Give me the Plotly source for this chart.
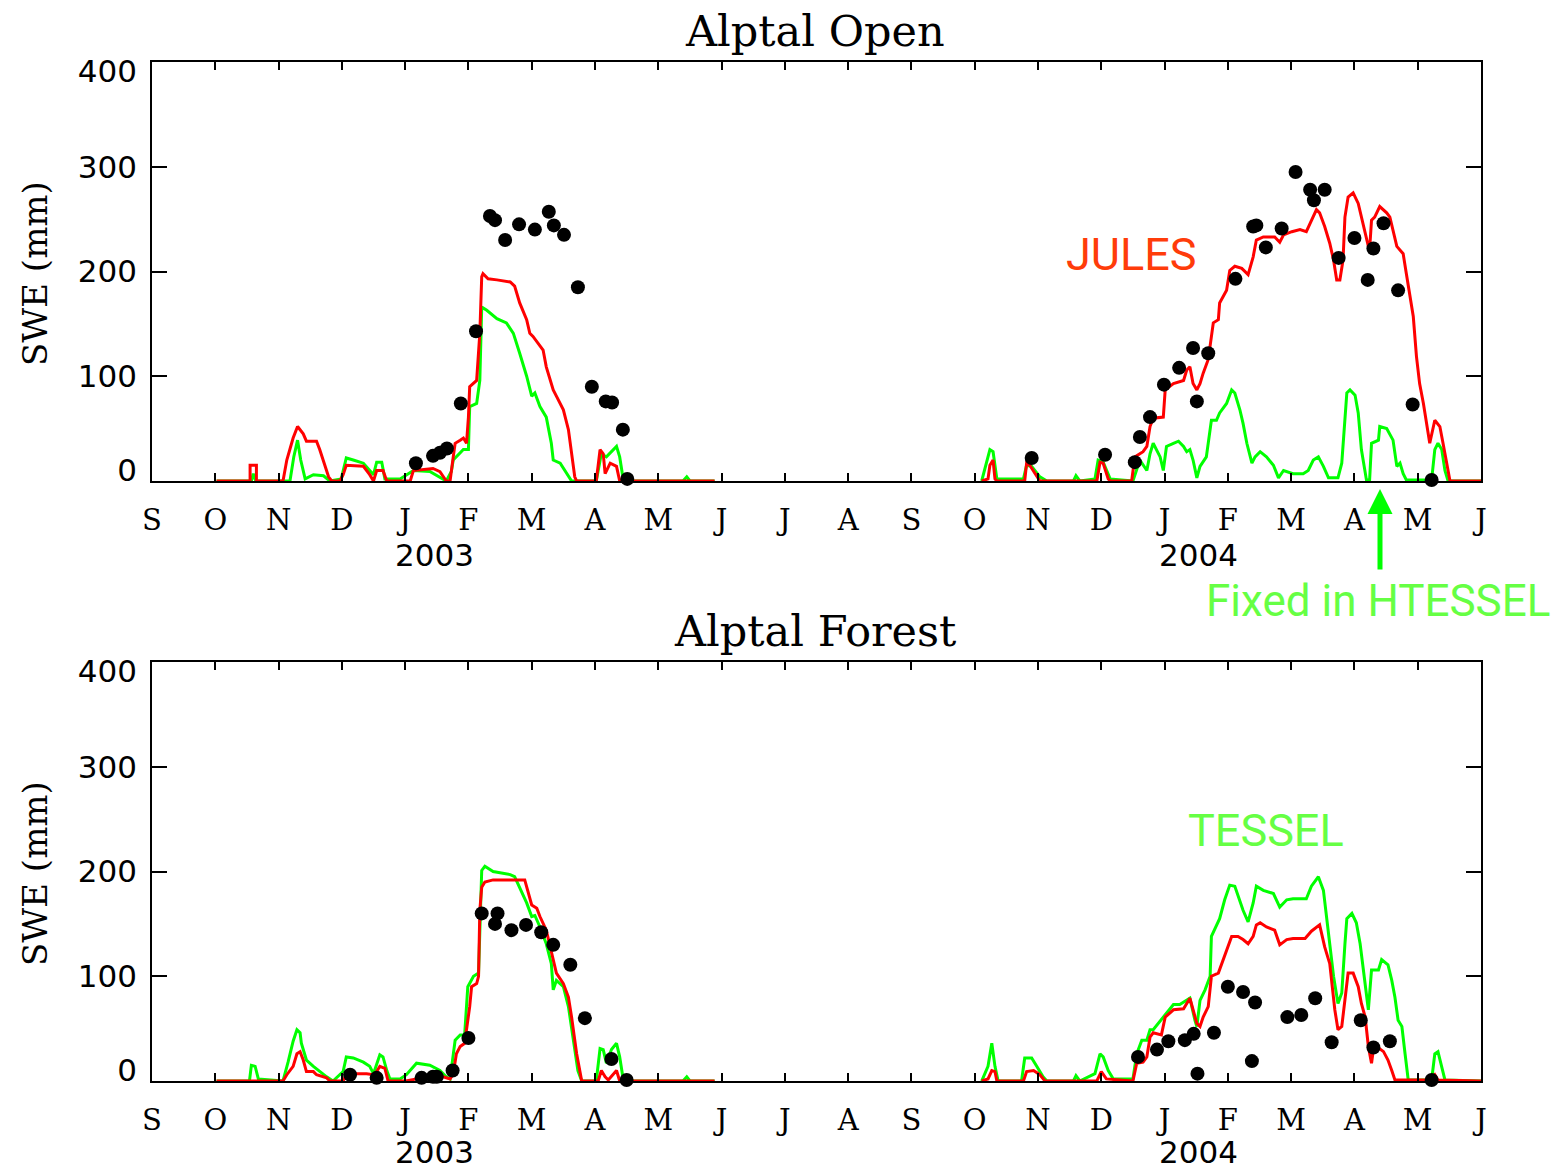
import plotly.graph_objects as go

# ---------------- data (x = months since 1 Sep 2002, y = SWE in mm) ----------------
MONTH_LABELS = ["S", "O", "N", "D", "J", "F", "M", "A", "M", "J", "J",
                "A", "S", "O", "N", "D", "J", "F", "M", "A", "M", "J"]
YEAR_LABELS = ["2003", "2004"]
YEAR_POS = [4.47, 16.54]

OPEN_JULES_2003 = [(1.02,0),(1.55,0),(1.55,15),(1.65,15),(1.65,0),(2.07,0),(2.13,20),(2.23,41),(2.30,52),(2.39,45),
    (2.44,38),(2.60,38),(2.65,30),(2.73,14),(2.79,4),(2.84,0),(2.97,0),(3.02,6),(3.07,15),(3.34,14),(3.44,6),(3.50,0),
    (3.55,10),(3.65,10),(3.71,0),(4.08,0),(4.13,10),(4.44,12),(4.55,9),(4.65,0),(4.71,0),(4.76,23),(4.79,36),(4.87,39),
    (4.92,41),(4.97,36),(5.00,61),(5.02,90),(5.13,96),(5.18,141),(5.21,195),(5.23,198),(5.31,193),(5.45,192),(5.66,190),
    (5.73,186),(5.81,170),(5.92,154),(5.97,141),(6.02,138),(6.10,131),(6.18,125),(6.23,109),(6.34,87),(6.39,81),(6.50,68),
    (6.58,49),(6.63,26),(6.68,4),(6.71,0),(7.02,0),(7.08,30),(7.13,26),(7.16,7),(7.24,17),(7.34,14),(7.39,0),(8.89,0)]
OPEN_TESSEL_2003 = [(1.02,0),(1.57,0),(1.60,7),(1.64,0),(2.18,0),(2.24,23),(2.30,39),(2.35,20),(2.42,2),(2.55,6),(2.71,5),
    (2.81,0),(2.99,2),(3.07,22),(3.18,20),(3.34,17),(3.50,6),(3.55,18),(3.63,18),(3.68,2),(3.92,2),(4.13,10),(4.39,9),
    (4.65,0),(4.73,9),(4.76,20),(4.92,30),(5.00,30),(5.02,71),(5.13,74),(5.18,96),(5.21,166),(5.29,163),(5.45,155),
    (5.60,151),(5.71,141),(5.81,122),(5.92,100),(6.00,81),(6.05,84),(6.13,71),(6.23,61),(6.31,36),(6.34,20),(6.45,17),
    (6.55,7),(6.63,0),(7.02,0),(7.10,26),(7.18,23),(7.34,33),(7.39,23),(7.45,0),(8.39,0),(8.45,4),(8.50,0),(8.89,0)]
OPEN_JULES_2004 = [(13.11,0),(13.21,2),(13.24,15),(13.29,20),(13.32,2),(13.35,0),(13.79,0),(13.82,17),(13.87,15),(13.98,4),
    (14.03,0),(14.93,0),(14.98,18),(15.03,17),(15.11,2),(15.14,0),(15.48,0),(15.53,23),(15.66,28),(15.72,33),(15.77,52),
    (15.82,60),(15.98,61),(16.01,87),(16.14,93),(16.30,96),(16.35,106),(16.40,109),(16.45,93),(16.51,87),(16.56,93),
    (16.61,103),(16.69,116),(16.77,151),(16.85,154),(16.87,170),(16.98,182),(17.03,201),(17.11,205),(17.22,203),
    (17.32,197),(17.40,214),(17.45,230),(17.56,233),(17.74,233),(17.82,228),(17.88,235),(18.01,238),(18.14,240),
    (18.24,238),(18.32,249),(18.40,259),(18.45,256),(18.53,243),(18.61,227),(18.67,211),(18.72,192),(18.77,192),
    (18.82,211),(18.85,252),(18.90,271),(18.98,275),(19.06,265),(19.14,243),(19.22,224),(19.24,221),(19.27,249),
    (19.32,252),(19.40,262),(19.51,256),(19.56,252),(19.67,224),(19.77,217),(19.82,198),(19.88,173),(19.93,157),
    (19.98,119),(20.03,93),(20.09,74),(20.14,55),(20.19,36),(20.27,58),(20.35,52),(20.40,36),(20.46,17),(20.51,0),(21.0,0)]
OPEN_TESSEL_2004 = [(13.11,0),(13.19,17),(13.24,30),(13.29,28),(13.32,14),(13.35,2),(13.77,2),(13.82,15),(13.90,14),
    (14.03,4),(14.14,0),(14.56,0),(14.60,5),(14.66,0),(14.90,2),(14.95,20),(15.03,18),(15.14,2),(15.50,0),(15.61,20),
    (15.72,10),(15.77,26),(15.82,36),(15.87,30),(15.93,23),(15.98,10),(16.03,33),(16.14,36),(16.22,38),(16.30,33),
    (16.35,28),(16.40,30),(16.45,20),(16.51,3),(16.56,14),(16.66,23),(16.74,58),(16.82,58),(16.87,65),(16.98,74),
    (17.06,87),(17.11,84),(17.19,68),(17.24,55),(17.30,36),(17.38,17),(17.43,23),(17.51,28),(17.61,23),(17.72,15),
    (17.80,3),(17.88,10),(18.03,7),(18.19,7),(18.27,10),(18.35,20),(18.43,23),(18.51,14),(18.59,3),(18.74,3),(18.80,17),
    (18.88,84),(18.93,87),(19.01,82),(19.06,65),(19.11,30),(19.19,1),(19.24,1),(19.27,36),(19.38,39),(19.40,52),
    (19.51,50),(19.61,39),(19.67,14),(19.72,17),(19.77,7),(19.82,1),(20.22,1),(20.27,30),(20.32,36),(20.38,30),
    (20.43,10),(20.48,0),(21.0,0)]
OPEN_OBS_X = [4.17,4.44,4.55,4.66,4.88,5.12,5.34,5.42,5.58,5.80,6.05,6.27,6.35,6.51,6.73,6.95,7.17,7.27,7.44,7.51,
    13.90,15.06,15.53,15.61,15.77,15.99,16.23,16.45,16.51,16.69,17.12,17.40,17.45,17.60,17.85,18.07,18.30,18.36,
    18.53,18.75,19.00,19.21,19.30,19.46,19.69,19.92,20.22]
OPEN_OBS_Y = [17,24,27,31,74,143,253,249,230,245,240,257,244,235,185,90,76,75,49,2,
    22,25,18,42,61,92,108,127,76,122,193,243,244,223,241,295,278,268,278,213,232,192,222,246,182,73,1]

FOREST_JULES_2003 = [(1.02,0),(2.07,0),(2.13,6),(2.23,14),(2.29,26),(2.34,28),(2.39,20),(2.44,9),(2.55,9),(2.60,6),
    (2.76,3),(2.81,0),(3.02,0),(3.07,6),(3.13,7),(3.39,7),(3.50,6),(3.55,9),(3.60,14),(3.68,12),(3.73,0),(4.01,0),
    (4.18,2),(4.39,6),(4.60,4),(4.71,2),(4.76,7),(4.81,26),(4.87,33),(4.94,36),(5.02,71),(5.05,90),(5.13,93),(5.16,100),
    (5.18,163),(5.21,185),(5.26,190),(5.39,192),(5.89,192),(5.95,179),(6.00,168),(6.08,165),(6.13,157),(6.23,144),
    (6.31,122),(6.39,103),(6.50,93),(6.58,80),(6.63,61),(6.71,26),(6.79,0),(7.05,0),(7.10,10),(7.16,4),(7.21,1),
    (7.29,7),(7.34,10),(7.39,0),(8.89,0)]
FOREST_TESSEL_2003 = [(1.02,0),(1.54,0),(1.57,15),(1.63,14),(1.68,2),(2.07,0),(2.15,18),(2.23,38),(2.29,49),(2.34,46),
    (2.36,36),(2.44,20),(2.55,14),(2.65,9),(2.76,4),(2.86,0),(3.02,9),(3.07,23),(3.18,22),(3.34,18),(3.44,14),(3.50,7),
    (3.60,25),(3.65,23),(3.71,10),(3.76,2),(3.92,2),(4.02,6),(4.18,17),(4.39,15),(4.55,10),(4.65,4),(4.71,2),(4.79,39),
    (4.87,44),(4.94,44),(4.99,90),(5.08,100),(5.16,103),(5.21,201),(5.26,205),(5.39,200),(5.66,197),(5.73,195),
    (5.81,185),(5.92,170),(6.00,157),(6.05,158),(6.13,147),(6.23,131),(6.31,112),(6.34,87),(6.39,96),(6.50,90),
    (6.58,71),(6.66,36),(6.73,10),(6.79,0),(7.02,0),(7.08,31),(7.13,30),(7.18,17),(7.26,30),(7.34,36),(7.39,23),
    (7.45,0),(8.39,0),(8.45,4),(8.50,0),(8.89,0)]
FOREST_JULES_2004 = [(13.11,0),(13.21,2),(13.27,10),(13.32,9),(13.35,0),(13.77,0),(13.82,9),(13.93,10),(14.03,6),
    (14.11,0),(14.93,0),(15.00,9),(15.08,2),(15.50,0),(15.56,17),(15.66,18),(15.72,23),(15.77,42),(15.82,46),(15.95,44),
    (16.01,61),(16.14,68),(16.30,69),(16.35,74),(16.40,79),(16.45,68),(16.51,55),(16.56,52),(16.61,61),(16.69,71),
    (16.74,100),(16.85,103),(16.93,116),(17.01,131),(17.06,138),(17.16,138),(17.24,135),(17.32,131),(17.40,138),
    (17.45,149),(17.51,151),(17.61,147),(17.74,144),(17.82,130),(17.93,135),(18.03,136),(18.22,136),(18.32,143),
    (18.40,147),(18.45,149),(18.53,128),(18.61,112),(18.69,68),(18.74,49),(18.80,52),(18.85,77),(18.90,103),
    (18.98,103),(19.06,90),(19.11,74),(19.17,61),(19.22,33),(19.27,17),(19.30,30),(19.35,33),(19.46,28),(19.53,20),
    (19.59,10),(19.64,1),(20.19,1),(20.27,6),(20.32,1),(21.0,0)]
FOREST_TESSEL_2004 = [(13.11,0),(13.21,14),(13.27,36),(13.32,14),(13.37,0),(13.74,0),(13.79,22),(13.90,22),(13.98,14),
    (14.08,4),(14.14,0),(14.56,0),(14.60,5),(14.66,0),(14.90,7),(14.98,26),(15.03,23),(15.11,10),(15.19,2),(15.50,2),
    (15.56,26),(15.64,39),(15.72,39),(15.77,49),(15.82,49),(15.98,61),(16.14,73),(16.24,73),(16.35,77),(16.40,79),
    (16.48,58),(16.51,52),(16.56,77),(16.64,87),(16.72,100),(16.74,138),(16.87,155),(16.95,173),(17.03,187),
    (17.11,186),(17.24,163),(17.32,152),(17.40,170),(17.45,186),(17.56,182),(17.72,179),(17.82,166),(17.93,173),
    (18.03,174),(18.24,174),(18.32,186),(18.43,195),(18.51,182),(18.59,141),(18.67,100),(18.74,74),(18.80,84),
    (18.85,131),(18.88,155),(18.96,160),(19.03,151),(19.09,131),(19.17,90),(19.22,68),(19.27,106),(19.38,106),
    (19.43,116),(19.53,111),(19.59,96),(19.64,80),(19.69,58),(19.75,52),(19.80,26),(19.85,1),(20.22,1),(20.27,26),
    (20.32,28),(20.38,14),(20.43,1),(21.0,0)]
FOREST_OBS_X = [3.13,3.55,4.26,4.44,4.50,4.75,5.00,5.21,5.46,5.42,5.68,5.91,6.15,6.34,6.61,6.84,7.26,7.50,
    15.58,15.88,16.06,16.32,16.46,16.52,16.78,17.00,17.24,17.43,17.38,17.94,18.16,18.38,18.64,19.10,19.30,19.56,20.22]
FOREST_OBS_Y = [6,3,3,4,4,10,41,160,160,150,144,149,142,130,111,60,21,1,
    23,30,38,39,45,7,46,90,85,75,19,61,63,79,37,58,32,38,1]

Y_TICKS = [0, 100, 200, 300, 400]
Y_TICK_LABEL_POS = [10.5, 100, 200, 300, 391]

# ---------------- figure ----------------
W, H = 1561, 1172
RED, GREEN = "#ff0000", "#00ff00"
SERIF = "DejaVu Serif"
DIGITS = "DejaVu Sans"
SANS = "Roboto, Liberation Sans, Arial, sans-serif"


def seasons(a, b):
    xs = [p[0] for p in a] + [None] + [p[0] for p in b]
    ys = [p[1] for p in a] + [None] + [p[1] for p in b]
    return xs, ys


fig = go.Figure()
panels = [
    ("x", "y", "y3", OPEN_TESSEL_2003, OPEN_TESSEL_2004, OPEN_JULES_2003, OPEN_JULES_2004, OPEN_OBS_X, OPEN_OBS_Y),
    ("x2", "y2", "y4", FOREST_TESSEL_2003, FOREST_TESSEL_2004, FOREST_JULES_2003, FOREST_JULES_2004, FOREST_OBS_X, FOREST_OBS_Y),
]
for xa, ya, ylab, t03, t04, j03, j04, ox, oy in panels:
    # empty helper trace so the label-only overlay axis is drawn
    fig.add_trace(go.Scatter(x=[None], y=[None], mode="lines", xaxis=xa, yaxis=ylab,
                             showlegend=False, hoverinfo="skip"))
    x, y = seasons(t03, t04)
    fig.add_trace(go.Scatter(x=x, y=y, mode="lines", line=dict(color=GREEN, width=3),
                             xaxis=xa, yaxis=ya, showlegend=False, connectgaps=False))
    x, y = seasons(j03, j04)
    fig.add_trace(go.Scatter(x=x, y=y, mode="lines", line=dict(color=RED, width=3),
                             xaxis=xa, yaxis=ya, showlegend=False, connectgaps=False))
    fig.add_trace(go.Scatter(x=ox, y=oy, mode="markers", marker=dict(color="black", size=14),
                             xaxis=xa, yaxis=ya, showlegend=False, cliponaxis=False))

xdom = [152 / W, 1481 / W]
top_dom = [1 - 481 / H, 1 - 62 / H]
bot_dom = [1 - 1081 / H, 1 - 662 / H]

xcommon = dict(range=[0, 21], tickvals=list(range(len(MONTH_LABELS))), ticktext=MONTH_LABELS,
               ticks="inside", ticklen=8, tickwidth=2, tickcolor="black", mirror="ticks",
               showline=True, linewidth=2, linecolor="black", showgrid=False, zeroline=False,
               tickfont=dict(family=SERIF, size=29, color="black"), ticklabelstandoff=12,
               domain=xdom, automargin=False)
ycommon = dict(range=[0, 400], tickvals=Y_TICKS, ticks="inside", ticklen=15, tickwidth=2,
               tickcolor="black", mirror="ticks", showline=True, linewidth=2, linecolor="black",
               showgrid=False, zeroline=False, showticklabels=False, automargin=False)
ylabels = dict(range=[0, 400], tickvals=Y_TICK_LABEL_POS, ticktext=[str(v) for v in Y_TICKS],
               ticks="", showline=False, showgrid=False, zeroline=False, side="left",
               showticklabels=True, automargin=False,
               tickfont=dict(family=DIGITS, size=31, color="black"), ticklabelstandoff=14)

fig.update_layout(
    width=W, height=H, margin=dict(l=0, r=0, t=0, b=0, autoexpand=False),
    paper_bgcolor="white", plot_bgcolor="white", showlegend=False,
    xaxis=dict(**xcommon, anchor="y"),
    yaxis=dict(**ycommon, domain=top_dom, anchor="x"),
    xaxis2=dict(**xcommon, anchor="y2"),
    yaxis2=dict(**ycommon, domain=bot_dom, anchor="x2"),
    yaxis3=dict(**ylabels, overlaying="y", anchor="x"),
    yaxis4=dict(**ylabels, overlaying="y2", anchor="x2"),
)

ann = []
# panel titles
for txt, yc in [("Alptal Open", 31), ("Alptal Forest", 631)]:
    ann.append(dict(text=txt, xref="paper", yref="paper", x=815 / W, y=1 - yc / H,
                    showarrow=False, font=dict(family=SERIF, size=43, color="black"),
                    xanchor="center", yanchor="middle"))
# y-axis titles
for yc in [274, 874]:
    ann.append(dict(text="SWE (mm)", xref="paper", yref="paper", x=35 / W, y=1 - yc / H,
                    textangle=-90, showarrow=False, font=dict(family=SERIF, size=34, color="black"),
                    xanchor="center", yanchor="middle"))
# year labels
for xa, yc in [("x", 555), ("x2", 1152)]:
    for lab, pos in zip(YEAR_LABELS, YEAR_POS):
        ann.append(dict(text=lab, xref=xa, yref="paper", x=pos, y=1 - yc / H, showarrow=False,
                        font=dict(family=DIGITS, size=31, color="black"),
                        xanchor="center", yanchor="middle"))
# model labels
ann.append(dict(text="JULES", xref="paper", yref="paper", x=1131 / W, y=1 - 255 / H, showarrow=False,
                font=dict(family=SANS, size=45, color="#ff3c0a"), xanchor="center", yanchor="middle"))
ann.append(dict(text="TESSEL", xref="paper", yref="paper", x=1266 / W, y=1 - 830 / H, showarrow=False,
                font=dict(family=SANS, size=45, color="#66ff44"), xanchor="center", yanchor="middle"))
ann.append(dict(text="Fixed in HTESSEL", xref="paper", yref="paper", x=1378 / W, y=1 - 601 / H,
                showarrow=False, font=dict(family=SANS, size=44, color="#66ff44"),
                xanchor="center", yanchor="middle"))
# arrow
ann.append(dict(text="", xref="paper", yref="paper", x=1380 / W, y=1 - 489 / H,
                showarrow=True, ax=0, ay=82, axref="pixel", ayref="pixel",
                arrowhead=2, arrowsize=1, arrowwidth=5, arrowcolor=GREEN))
fig.update_layout(annotations=ann)

fig.write_html("out.html")
